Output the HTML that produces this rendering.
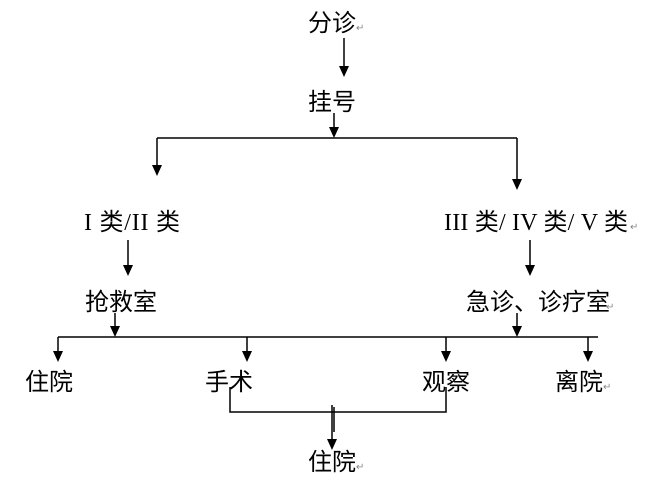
<!DOCTYPE html>
<html><head><meta charset="utf-8"><style>
html,body{margin:0;padding:0;background:#fff;width:671px;height:477px;overflow:hidden}
text{font-family:"Liberation Serif","Noto Sans CJK SC",sans-serif;font-size:24px;fill:#000}
.m{font-size:10px;fill:#888}
</style></head><body>
<svg width="671" height="477" viewBox="0 0 671 477">
<g stroke="#000" stroke-width="1.5" fill="none">
<line x1="344" y1="38" x2="344" y2="68"/>
<line x1="334" y1="113" x2="334" y2="130"/>
<line x1="157" y1="138" x2="517" y2="138"/>
<line x1="157" y1="138" x2="157" y2="167"/>
<line x1="517" y1="138" x2="517" y2="181"/>
<line x1="128" y1="240" x2="128" y2="267"/>
<line x1="530" y1="240" x2="530" y2="267"/>
<line x1="115" y1="313" x2="115" y2="328"/>
<line x1="517" y1="313" x2="517" y2="328"/>
<line x1="58" y1="337" x2="598" y2="337"/>
<line x1="58" y1="337" x2="58" y2="353"/>
<line x1="247" y1="337" x2="247" y2="353"/>
<line x1="446" y1="337" x2="446" y2="353"/>
<line x1="588" y1="337" x2="588" y2="353"/>
<polyline points="230,387 230,412 446,412 446,387"/>
<line x1="332" y1="405" x2="332" y2="441"/>
<line x1="334" y1="407" x2="334" y2="432"/>
</g>
<g fill="#000">
<polygon points="339,66 349,66 344,77"/>
<polygon points="329,127 339,127 334,138"/>
<polygon points="152,165 162,165 157,176"/>
<polygon points="512,179 522,179 517,190"/>
<polygon points="123,265 133,265 128,276"/>
<polygon points="525,265 535,265 530,276"/>
<polygon points="110,326 120,326 115,337"/>
<polygon points="512,326 522,326 517,337"/>
<polygon points="53,351 63,351 58,362"/>
<polygon points="242,351 252,351 247,362"/>
<polygon points="441,351 451,351 446,362"/>
<polygon points="583,351 593,351 588,362"/>
<polygon points="327,439 337,439 332,450"/>
</g>
<text x="308" y="31">分诊</text><text class="m" x="356" y="31">↵</text>
<text x="308" y="110">挂号</text>
<text x="84" y="230" textLength="96">I 类/II 类</text>
<text x="444" y="230" textLength="184">III 类/ IV 类/ V 类</text><text class="m" x="630" y="230">↵</text>
<text x="85" y="310">抢救室</text>
<text x="466" y="310">急诊、诊疗室</text><text class="m" x="606" y="310">↵</text>
<text x="25" y="390">住院</text>
<text x="205" y="390">手术</text>
<text x="422" y="390">观察</text>
<text x="555" y="390">离院</text><text class="m" x="603" y="390">↵</text>
<text x="308" y="470">住院</text><text class="m" x="356" y="470">↵</text>
</svg>
</body></html>
